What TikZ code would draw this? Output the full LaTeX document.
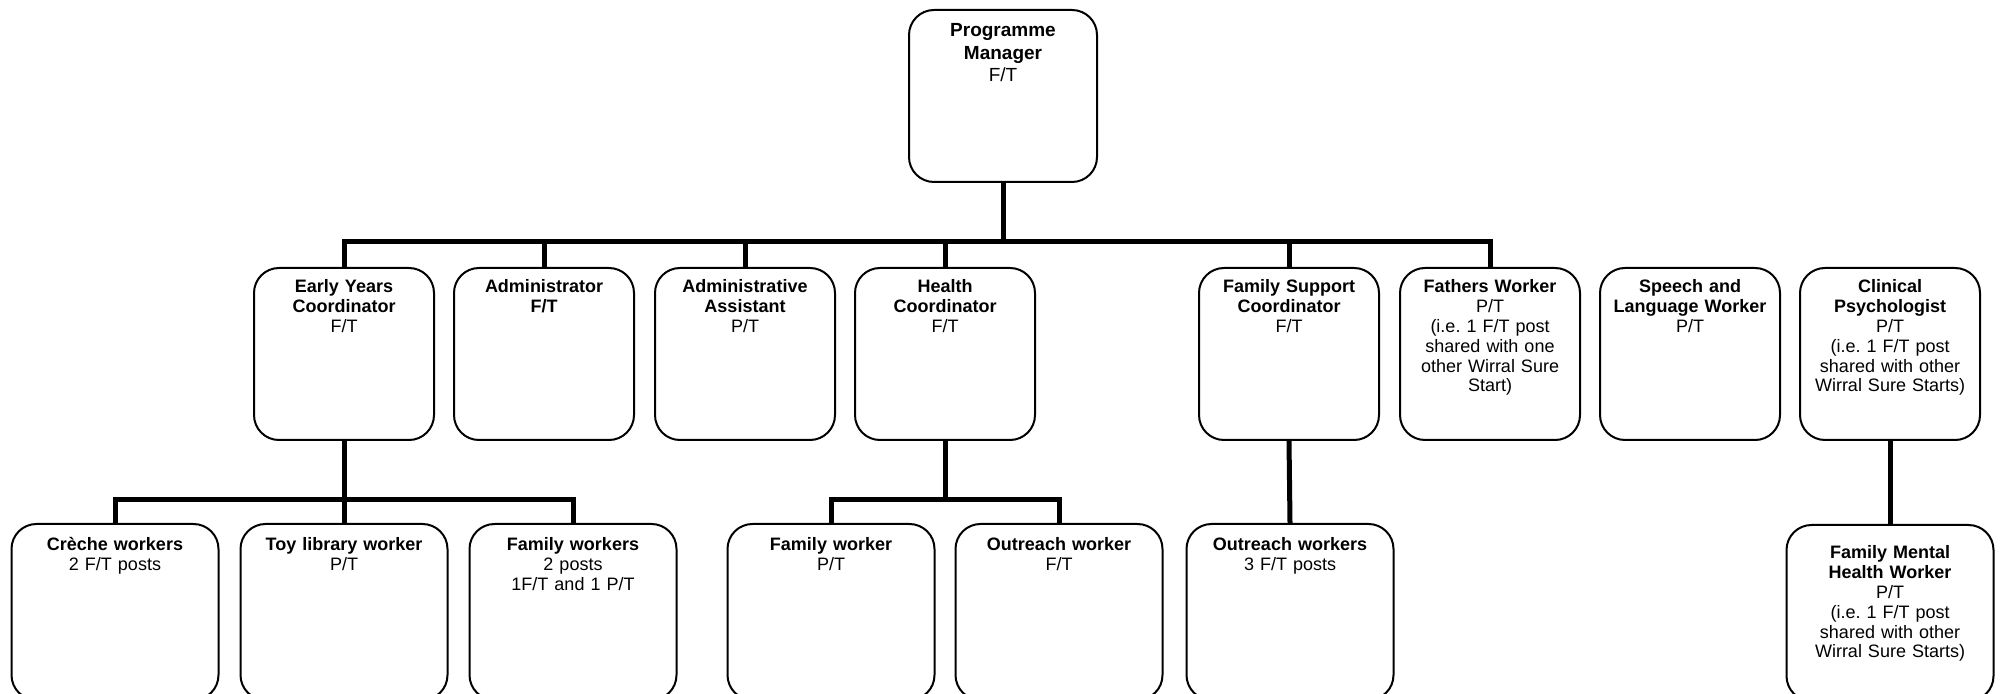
\documentclass[tikz,border=0pt]{standalone}
\usepackage{fontspec}
\setmainfont{Liberation Sans}
\frenchspacing
\newcommand\postfont{\fontsize{9}{9.9}\selectfont}
\newcommand\headfont{\fontsize{9.5}{11.2}\selectfont}
\tikzset{
  post/.style={draw, line width=1pt, rounded corners=12.5pt, align=center,
    anchor=north, inner xsep=2pt, text height=7pt, font=\postfont},
  link/.style={line width=2.5pt, line join=miter}
}
\begin{document}
\begin{tikzpicture}[x=0.5pt, y=-0.5pt,
  topbox/.style={post, text width=90pt, inner ysep=6.5pt, text depth=66pt, font=\headfont},
  midbox/.style={post, text width=86pt, inner ysep=5.5pt, text depth=68pt},
  lowbox/.style={post, text width=99.5pt, inner ysep=6.5pt, text depth=68pt}]
\clip (0,0) rectangle (2001,694);
\fill[white] (0,0) rectangle (2001,694);
\node[topbox] (pm) at (1003,9) {\textbf{Programme}\\\textbf{Manager}\\F/T};
\node[midbox] (eyc) at (344,267) {\textbf{Early Years}\\\textbf{Coordinator}\\F/T};
\node[midbox] (adm) at (544,267) {\textbf{Administrator}\\\textbf{F/T}};
\node[midbox] (asst) at (745,267) {\textbf{Administrative}\\\textbf{Assistant}\\P/T};
\node[midbox] (hc) at (945,267) {\textbf{Health}\\\textbf{Coordinator}\\F/T};
\node[midbox] (fsc) at (1289,267) {\textbf{Family Support}\\\textbf{Coordinator}\\F/T};
\node[midbox] (fw) at (1490,267) {\textbf{Fathers Worker}\\P/T\\(i.e. 1 F/T post\\shared with one\\other Wirral Sure\\Start)};
\node[midbox] (slw) at (1690,267) {\textbf{Speech and}\\\textbf{Language Worker}\\P/T};
\node[midbox] (cp) at (1890,267) {\textbf{Clinical}\\\textbf{Psychologist}\\P/T\\(i.e. 1 F/T post\\shared with other\\Wirral Sure Starts)};
\node[lowbox] (cw) at (115,523) {\textbf{Crèche workers}\\2 F/T posts};
\node[lowbox] (toy) at (344,523) {\textbf{Toy library worker}\\P/T};
\node[lowbox] (fws) at (573,523) {\textbf{Family workers}\\2 posts\\1F/T and 1 P/T};
\node[lowbox] (hfw) at (831,523) {\textbf{Family worker}\\P/T};
\node[lowbox] (ow) at (1059,523) {\textbf{Outreach worker}\\F/T};
\node[lowbox] (ows) at (1290,523) {\textbf{Outreach workers}\\3 F/T posts};
\node[lowbox, inner ysep=10pt, text depth=61pt] (fmhw) at (1890,524) {\textbf{Family Mental}\\\textbf{Health Worker}\\P/T\\(i.e. 1 F/T post\\shared with other\\Wirral Sure Starts)};
\coordinate (topbar) at (0,242);
\coordinate (eybar) at (0,500);
\coordinate (hcbar) at (0,500);
\draw[link] (pm.south) -- (pm.south |- topbar);
\draw[link] (eyc.north) -- (eyc.north |- topbar) -- (fw.north |- topbar) -- (fw.north);
\foreach \n in {adm,asst,hc,fsc}
  \draw[link] (\n.north) -- (\n.north |- topbar);
\draw[link] (eyc.south) -- (toy.north);
\draw[link] (cw.north) -- (cw.north |- eybar) -- (fws.north |- eybar) -- (fws.north);
\draw[link] (hc.south) -- (hc.south |- hcbar);
\draw[link] (hfw.north) -- (hfw.north |- hcbar) -- (ow.north |- hcbar) -- (ow.north);
\draw[link] (fsc.south) -- (ows.north);
\draw[link] (cp.south) -- (fmhw.north);
\end{tikzpicture}
\end{document}
